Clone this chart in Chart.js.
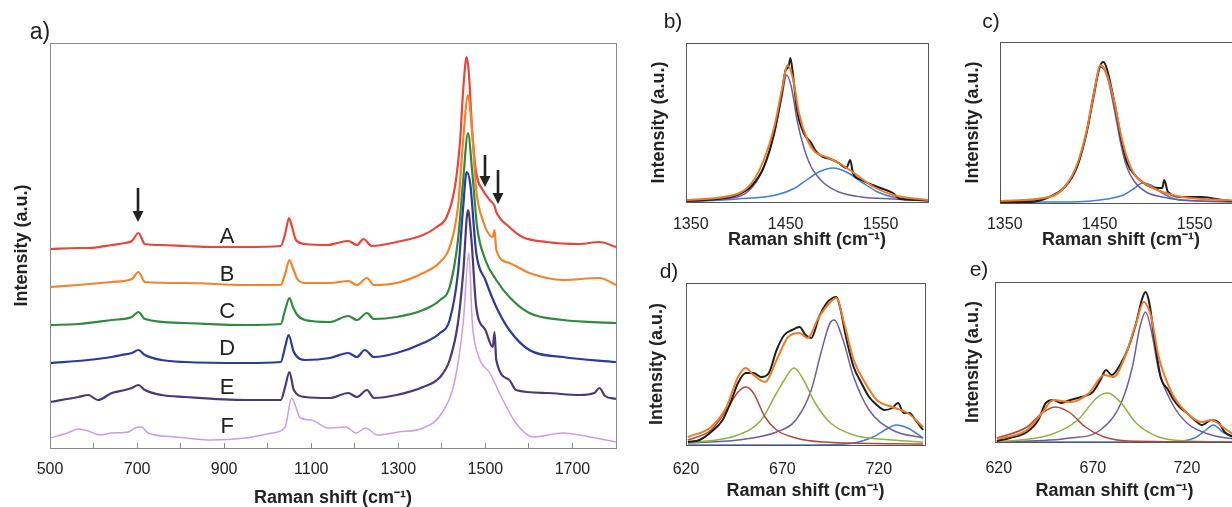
<!DOCTYPE html>
<html>
<head>
<meta charset="utf-8">
<script src="https://cdn.jsdelivr.net/npm/chart.js@4.4.1/dist/chart.umd.min.js"></script>
<style>
  html, body { margin: 0; padding: 0; width: 1232px; height: 507px; overflow: hidden; background: #fff; }
  canvas { position: absolute; }
</style>
</head>
<body>
<canvas id="ca" width="636" height="510" style="left:0;top:0"></canvas>
<canvas id="cb" width="310" height="250" style="left:636px;top:0"></canvas>
<canvas id="cc" width="310" height="250" style="left:950px;top:0"></canvas>
<canvas id="cd" width="310" height="257" style="left:636px;top:250px"></canvas>
<canvas id="ce" width="310" height="257" style="left:950px;top:250px"></canvas>
<script>
'use strict';

// ---- panel a: stacked spectra, [Raman shift, intensity incl. offset]
var traceA = [[500,199],[565,200],[588,200],[642,203],[672,205],[688,207],[703,215],[718,204],[756,203],[810,202],[871,201],[948,201],[1030,202],[1040,214],[1049,230],[1056,221],[1065,208],[1086,204],[1139,203],[1160,205],[1185,207],[1205,203],[1220,209],[1239,202],[1296,206],[1357,213],[1388,221],[1411,231],[1430,261],[1442,308],[1449,358],[1457,391],[1462,375],[1470,315],[1479,275],[1494,258],[1510,248],[1521,242],[1525,236],[1555,221],[1585,211],[1640,206],[1716,204],[1762,206],[1800,201]];
var traceB = [[500,161],[565,163],[642,166],[688,169],[703,176],[718,166],[810,165],[948,163],[1030,163],[1040,174],[1050,188],[1058,180],[1068,169],[1086,165],[1143,165],[1185,167],[1205,163],[1228,170],[1244,163],[1296,165],[1357,175],[1396,186],[1418,201],[1437,241],[1449,308],[1460,353],[1468,325],[1479,258],[1494,228],[1517,211],[1521,218],[1525,198],[1555,185],[1601,175],[1678,168],[1762,170],[1800,163]];
var traceC = [[500,123],[565,124],[642,128],[688,131],[703,136],[718,129],[810,125],[948,123],[1030,124],[1040,138],[1050,150],[1058,141],[1068,133],[1086,128],[1143,126],[1185,132],[1205,128],[1228,135],[1244,129],[1296,131],[1357,138],[1396,148],[1418,161],[1437,208],[1449,268],[1460,315],[1470,275],[1481,221],[1500,188],[1525,168],[1555,151],[1601,135],[1678,128],[1800,125]];
var traceD = [[500,85],[588,88],[642,91],[665,93],[688,95],[703,98],[718,93],[756,88],[810,86],[948,85],[1030,86],[1040,101],[1048,113],[1060,96],[1086,88],[1143,90],[1185,95],[1205,91],[1223,98],[1244,91],[1296,95],[1357,105],[1396,115],[1418,128],[1437,175],[1449,241],[1457,276],[1465,265],[1479,195],[1500,168],[1525,141],[1555,118],[1601,98],[1678,91],[1800,86]];
var traceE = [[500,46],[565,51],[588,53],[610,48],[642,55],[672,58],[688,60],[703,63],[718,58],[756,53],[810,51],[948,48],[1030,48],[1040,61],[1050,76],[1060,58],[1086,51],[1143,50],[1185,55],[1205,51],[1228,58],[1244,50],[1296,53],[1357,61],[1396,71],[1418,88],[1437,125],[1449,175],[1460,238],[1468,208],[1479,141],[1500,118],[1517,101],[1521,116],[1525,88],[1555,68],[1570,58],[1640,55],[1716,53],[1750,55],[1762,60],[1775,52],[1800,49]];
var traceF = [[500,10],[540,15],[565,19],[588,17],[615,13],[642,15],[680,16],[695,20],[710,21],[725,15],[790,11],[871,8],[948,10],[1010,15],[1040,21],[1055,50],[1075,30],[1100,28],[1139,20],[1180,21],[1203,15],[1225,20],[1252,13],[1300,16],[1357,20],[1400,35],[1430,68],[1449,125],[1462,195],[1470,125],[1485,91],[1510,75],[1540,48],[1570,25],[1610,11],[1678,15],[1740,11],[1800,6]];

var sampleNames = ['A', 'B', 'C', 'D', 'E', 'F'];
var sampleLevels = [211, 173, 136, 99, 60, 21];
var sampleShift = 907;
var tickLabelsA = [500, 700, 900, 1100, 1300, 1500, 1700];
// [shift, tail intensity, tip intensity]
var arrowsA = [[701, 260, 226], [1499, 293, 261], [1528, 278, 244]];

// ---- panel b: 1350-1600 fit
var bData = [[1345,1],[1378,3],[1399,7],[1415,17],[1427,35],[1438,69],[1446,109],[1450,132],[1453,135],[1455,144],[1458,125],[1462,92],[1469,69],[1477,59],[1481,52],[1489,45],[1497,43],[1506,39],[1514,34],[1518,42],[1521,29],[1530,22],[1547,15],[1563,9],[1571,3],[1600,2]];
var bFit = [[1345,2],[1399,8],[1415,20],[1427,42],[1438,75],[1446,112],[1452,137],[1458,122],[1464,89],[1473,62],[1481,50],[1493,45],[1506,39],[1522,29],[1543,15],[1563,7],[1600,2]];
var bPeak1 = [[1345,1],[1399,5],[1415,15],[1427,35],[1438,69],[1446,105],[1451,127],[1456,115],[1462,82],[1469,55],[1477,35],[1489,20],[1506,10],[1530,5],[1563,3],[1600,1]];
var bPeak2 = [[1345,0],[1399,3],[1440,7],[1460,14],[1472,22],[1485,30],[1500,34],[1514,30],[1530,20],[1547,10],[1563,5],[1600,1]];

// ---- panel c
var cData = [[1345,1],[1376,1],[1397,6],[1413,16],[1426,36],[1436,70],[1444,110],[1450,136],[1454,141],[1458,133],[1465,103],[1473,63],[1479,40],[1487,28],[1495,21],[1504,16],[1516,15],[1518,23],[1522,11],[1537,6],[1557,6],[1589,2],[1600,2]];
var cFit = [[1345,2],[1397,6],[1413,16],[1426,38],[1436,71],[1444,110],[1451,138],[1458,128],[1465,103],[1473,66],[1479,45],[1487,28],[1495,21],[1504,16],[1516,11],[1537,6],[1600,2]];
var cPeak1 = [[1345,1],[1397,6],[1413,15],[1426,35],[1436,68],[1444,106],[1451,136],[1458,126],[1465,96],[1473,56],[1479,35],[1487,21],[1499,11],[1516,6],[1537,3],[1600,1]];
var cPeak2 = [[1345,1],[1417,1],[1458,4],[1475,8],[1487,15],[1495,20],[1504,18],[1516,10],[1529,4],[1553,2],[1600,1]];
var ticksHigh = [1350, 1450, 1550];

// ---- panel d: 620-745 fit
var dData = [[621,3],[627,5],[633,13],[639,25],[643,42],[647,62],[651,72],[655,72],[659,68],[663,72],[667,95],[671,110],[675,115],[679,118],[682,110],[685,107],[689,128],[693,142],[696,147],[698,148],[700,137],[703,108],[707,78],[711,62],[715,48],[719,40],[723,35],[727,37],[730,42],[733,32],[736,32],[739,25],[743,15]];
var dFit = [[621,8],[633,18],[641,38],[647,68],[651,77],[655,70],[661,63],[667,85],[673,108],[679,112],[683,107],[689,128],[695,143],[698,147],[702,122],[707,85],[713,62],[719,45],[727,38],[735,32],[743,18]];
var dPeak1 = [[621,5],[633,15],[641,35],[647,53],[651,58],[655,52],[661,28],[667,15],[677,7],[691,3],[743,1]];
var dPeak2 = [[621,2],[647,10],[659,25],[667,52],[671,65],[676,77],[681,65],[687,42],[695,22],[707,10],[727,5],[743,3]];
var dPeak3 = [[621,2],[647,5],[667,13],[677,25],[685,55],[690,92],[695,123],[697,125],[701,108],[707,68],[715,35],[727,15],[743,7]];
var dPeak4 = [[621,0],[687,0],[707,2],[717,8],[725,17],[729,20],[735,17],[743,7]];

// ---- panel e
var eData = [[619,1],[626,4],[635,10],[641,22],[645,39],[649,42],[653,39],[658,42],[664,45],[670,50],[674,62],[677,72],[680,67],[685,79],[689,95],[693,119],[696,142],[698,150],[700,139],[703,99],[706,65],[710,52],[713,42],[716,35],[720,29],[724,22],[728,17],[733,22],[737,19],[740,10],[745,5]];
var eFit = [[619,3],[635,12],[643,29],[649,42],[658,40],[668,49],[676,67],[681,65],[687,85],[693,119],[697,140],[701,125],[705,85],[712,49],[720,29],[728,20],[733,22],[739,15],[745,7]];
var ePeak1 = [[619,4],[635,15],[643,29],[650,35],[658,29],[666,15],[676,5],[689,1],[745,0]];
var ePeak2 = [[619,0],[647,7],[662,22],[672,44],[678,49],[685,39],[693,19],[705,5],[720,1],[745,0]];
var ePeak3 = [[619,0],[658,4],[674,12],[685,39],[691,75],[695,115],[698,130],[701,112],[705,72],[712,39],[720,19],[733,7],[745,3]];
var ePeak4 = [[619,0],[710,0],[724,4],[730,12],[734,17],[739,10],[745,4]];
var ticksLow = [620, 670, 720];

var FONT = "'Liberation Sans', Arial, sans-serif";
var INK = '#222';
var X_TITLE = 'Raman shift (cm\u207B\u00B9)';
var Y_TITLE = 'Intensity (a.u.)';
var COL = {
    data: '#1e1e1e', fit: '#f27a24', p1: '#b5463c', p2: '#8db43f', p3: '#6f5d9c', p4: '#3f80d2'
};

function toPoints(pairs) {
    return pairs.map(function (p) { return {x: p[0], y: p[1]}; });
}

function line(pairs, color, width, order) {
    return {
        data: toPoints(pairs),
        borderColor: color,
        borderWidth: width,
        pointRadius: 0,
        cubicInterpolationMode: 'monotone',
        fill: false,
        order: order
    };
}

// box round the plot area
var framePlugin = {
    id: 'frame',
    afterDraw: function (chart, args, opts) {
        var a = chart.chartArea, ctx = chart.ctx;
        ctx.save();
        ctx.strokeStyle = opts.color;
        ctx.lineWidth = opts.width;
        ctx.strokeRect(Math.round(a.left) + 0.5, Math.round(a.top) + 0.5, Math.round(a.width), Math.round(a.height));
        ctx.restore();
    }
};

// panel letter, a) b) ...
var tagPlugin = {
    id: 'tag',
    afterDraw: function (chart, args, opts) {
        var ctx = chart.ctx;
        ctx.save();
        ctx.font = opts.size + 'px ' + FONT;
        ctx.fillStyle = INK;
        ctx.textAlign = 'center';
        ctx.textBaseline = 'middle';
        ctx.fillText(opts.text, opts.x, opts.y);
        ctx.restore();
    }
};

// sample letters and arrows of panel a
var marksPlugin = {
    id: 'marks',
    afterDatasetsDraw: function (chart) {
        var ctx = chart.ctx, xs = chart.scales.x, ys = chart.scales.y;
        ctx.save();
        ctx.fillStyle = INK;
        ctx.strokeStyle = INK;
        ctx.font = '22px ' + FONT;
        ctx.textAlign = 'center';
        ctx.textBaseline = 'middle';
        sampleNames.forEach(function (name, i) {
            ctx.fillText(name, xs.getPixelForValue(sampleShift), ys.getPixelForValue(sampleLevels[i]));
        });
        arrowsA.forEach(function (a) {
            var x = Math.round(xs.getPixelForValue(a[0]));
            var y0 = ys.getPixelForValue(a[1]), y1 = ys.getPixelForValue(a[2]);
            ctx.lineWidth = 2.6;
            ctx.beginPath();
            ctx.moveTo(x, y0);
            ctx.lineTo(x, y1 - 8);
            ctx.stroke();
            ctx.beginPath();
            ctx.moveTo(x, y1);
            ctx.lineTo(x - 5.5, y1 - 11);
            ctx.lineTo(x + 5.5, y1 - 11);
            ctx.closePath();
            ctx.fill();
        });
        ctx.restore();
    }
};

function titleOpts(text, padding) {
    return { display: true, text: text, color: INK, font: { family: FONT, size: 18, weight: 'bold' }, padding: padding };
}

function yAxis(max, width, titlePad) {
    return {
        type: 'linear', min: 0, max: max,
        ticks: { display: false },
        grid: { display: false, drawTicks: false },
        border: { display: false },
        title: titleOpts(Y_TITLE, { top: titlePad, bottom: 0 }),
        afterFit: function (s) { s.width = width; }
    };
}

function xAxis(min, max, ticks, height, tickPad, titlePad) {
    return {
        type: 'linear', min: min, max: max,
        afterBuildTicks: function (s) { s.ticks = ticks.map(function (v) { return {value: v}; }); },
        ticks: {
            color: INK, font: { family: FONT, size: 16 }, padding: tickPad, maxRotation: 0, autoSkip: false,
            callback: function (v) { return String(v); }
        },
        grid: { display: false, drawTicks: false },
        border: { display: false },
        title: titleOpts(X_TITLE, { top: 0, bottom: titlePad }),
        afterFit: function (s) { s.height = height; }
    };
}

function baseOptions(box) {
    return {
        responsive: false,
        animation: false,
        events: [],
        layout: { padding: { left: 0, top: box.top, right: box.right, bottom: 0 } },
        plugins: {
            legend: { display: false },
            tooltip: { enabled: false },
            frame: { color: box.frame, width: 1 },
            tag: { text: box.tag, x: box.tagX, y: box.tagY, size: box.tagSize || 21 }
        }
    };
}

// ---- panel a
var optsA = baseOptions({ top: 43, right: 20, frame: '#8a8a8a', tag: 'a)', tagX: 40, tagY: 33, tagSize: 23 });
optsA.scales = {
    x: {
        type: 'linear', min: 500, max: 1800,
        ticks: {
            stepSize: 100, color: INK, font: { family: FONT, size: 16 }, padding: 17, maxRotation: 0, autoSkip: false,
            callback: function (v) { return tickLabelsA.indexOf(v) >= 0 ? String(v) : ''; }
        },
        grid: { display: true, drawOnChartArea: false, drawTicks: true, tickLength: -5, color: '#8a8a8a', lineWidth: 1 },
        border: { display: false },
        title: titleOpts(X_TITLE, { top: 0, bottom: 1 }),
        afterFit: function (s) { s.height = 62; }
    },
    y: yAxis(405, 50, 11)
};

new Chart(document.getElementById('ca'), {
    type: 'line',
    data: {
        datasets: [
            line(traceA, '#e9463a', 2.2, 6),
            line(traceB, '#f5832a', 2.2, 5),
            line(traceC, '#2f8a3b', 2.2, 4),
            line(traceD, '#2c3a9c', 2.2, 3),
            line(traceE, '#4a3878', 2.2, 2),
            line(traceF, '#c99ee8', 1.5, 1)
        ]
    },
    options: optsA,
    plugins: [framePlugin, tagPlugin, marksPlugin]
});

// ---- panels b to e
function fitPanel(id, sets, box, x, yMax) {
    var opts = baseOptions(box);
    opts.scales = {
        x: xAxis(x.min, x.max, x.ticks, box.xHeight, box.tickPad, box.xTitlePad),
        y: yAxis(yMax, box.yWidth, box.yTitlePad)
    };
    var colors = [COL.fit, COL.data, COL.p1, COL.p2, COL.p3, COL.p4];
    var widths = [2, 2, 1.5, 1.5, 1.5, 1.5];
    var datasets = sets.map(function (s, i) { return line(s.pts, colors[s.c], widths[s.c], i); });
    new Chart(document.getElementById(id), {
        type: 'line',
        data: { datasets: datasets },
        options: opts,
        plugins: [framePlugin, tagPlugin]
    });
}

fitPanel('cb',
    [{pts: bFit, c: 0}, {pts: bData, c: 1}, {pts: bPeak1, c: 4}, {pts: bPeak2, c: 5}],
    { top: 43, right: 18, frame: '#555', tag: 'b)', tagX: 37, tagY: 22, xHeight: 48, tickPad: 13, xTitlePad: -1, yWidth: 50, yTitlePad: 12 },
    { min: 1345, max: 1600, ticks: ticksHigh }, 159);

fitPanel('cc',
    [{pts: cFit, c: 0}, {pts: cData, c: 1}, {pts: cPeak1, c: 4}, {pts: cPeak2, c: 5}],
    { top: 42, right: 18, frame: '#555', tag: 'c)', tagX: 41, tagY: 22, xHeight: 47, tickPad: 12, xTitlePad: -1, yWidth: 50, yTitlePad: 12 },
    { min: 1345, max: 1600, ticks: ticksHigh }, 161);

fitPanel('cd',
    [{pts: dFit, c: 0}, {pts: dData, c: 1}, {pts: dPeak1, c: 2}, {pts: dPeak2, c: 3}, {pts: dPeak3, c: 4}, {pts: dPeak4, c: 5}],
    { top: 33, right: 21, frame: '#555', tag: 'd)', tagX: 33, tagY: 22, xHeight: 62, tickPad: 15, xTitlePad: 5, yWidth: 50, yTitlePad: 10 },
    { min: 620, max: 744, ticks: ticksLow }, 162);

fitPanel('ce',
    [{pts: eFit, c: 0}, {pts: eData, c: 1}, {pts: ePeak1, c: 2}, {pts: ePeak2, c: 3}, {pts: ePeak3, c: 4}, {pts: ePeak4, c: 5}],
    { top: 32, right: 26, frame: '#555', tag: 'e)', tagX: 29, tagY: 20, xHeight: 65, tickPad: 17, xTitlePad: 5, yWidth: 45, yTitlePad: 12 },
    { min: 618, max: 745, ticks: ticksLow }, 160);
</script>
</body>
</html>
